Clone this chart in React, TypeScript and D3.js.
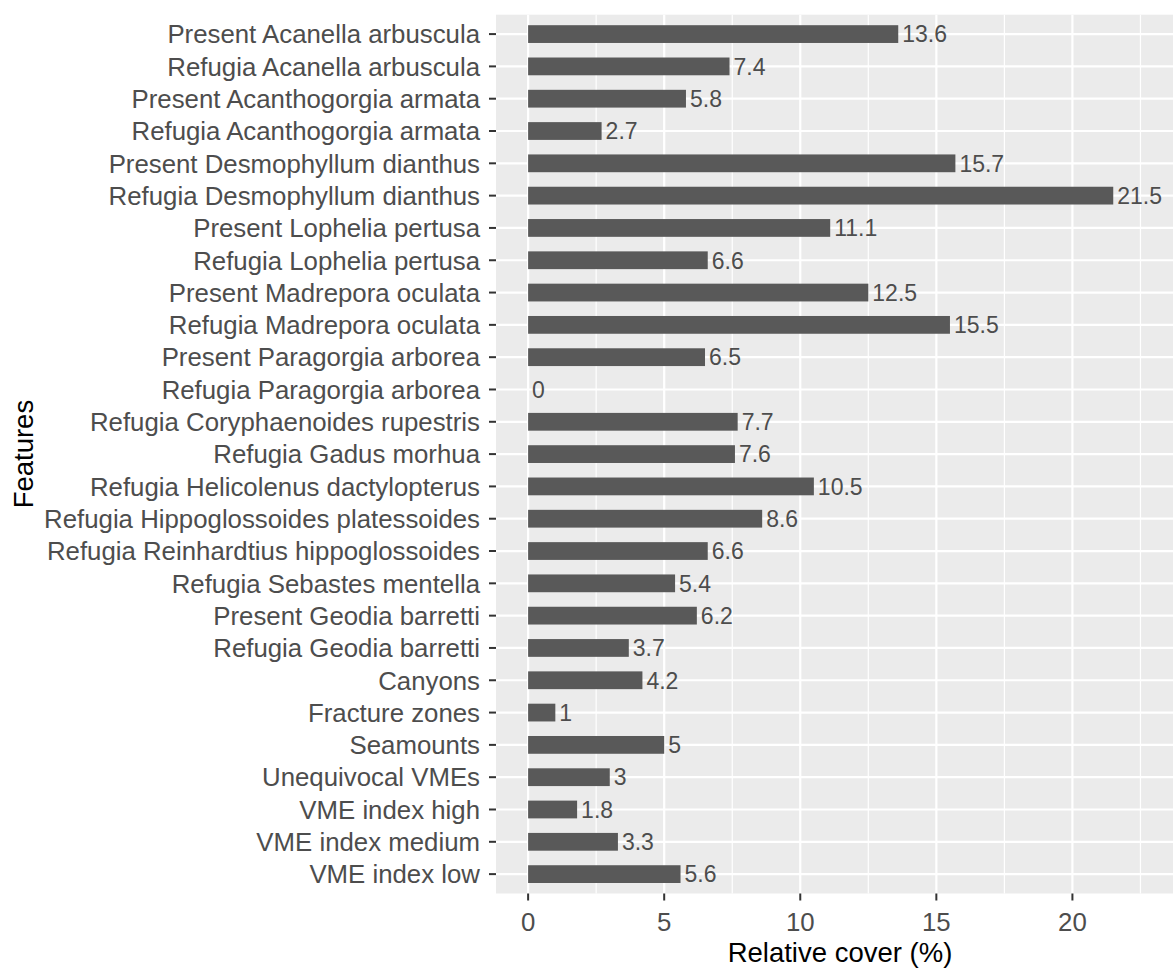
import * as d3 from "d3";

const features = [
  "Present Acanella arbuscula",
  "Refugia Acanella arbuscula",
  "Present Acanthogorgia armata",
  "Refugia Acanthogorgia armata",
  "Present Desmophyllum dianthus",
  "Refugia Desmophyllum dianthus",
  "Present Lophelia pertusa",
  "Refugia Lophelia pertusa",
  "Present Madrepora oculata",
  "Refugia Madrepora oculata",
  "Present Paragorgia arborea",
  "Refugia Paragorgia arborea",
  "Refugia Coryphaenoides rupestris",
  "Refugia Gadus morhua",
  "Refugia Helicolenus dactylopterus",
  "Refugia Hippoglossoides platessoides",
  "Refugia Reinhardtius hippoglossoides",
  "Refugia Sebastes mentella",
  "Present Geodia barretti",
  "Refugia Geodia barretti",
  "Canyons",
  "Fracture zones",
  "Seamounts",
  "Unequivocal VMEs",
  "VME index high",
  "VME index medium",
  "VME index low",
];

const cover = [
  13.6, 7.4, 5.8, 2.7, 15.7, 21.5, 11.1, 6.6, 12.5, 15.5, 6.5, 0, 7.7, 7.6,
  10.5, 8.6, 6.6, 5.4, 6.2, 3.7, 4.2, 1, 5, 3, 1.8, 3.3, 5.6,
];

const majorTicks = [0, 5, 10, 15, 20];
const minorTicks = [2.5, 7.5, 12.5, 17.5, 22.5];

const W = 1173;
const H = 969;
const FONT = "'Liberation Sans', Arial, sans-serif";

export default function App() {
  // panel runs past the right edge of the picture, as in the original export
  const panel = { left: 496, top: 14.7, right: 1184, bottom: 893.5 };

  const x = d3.scaleLinear().domain([-1.18, 24.1]).range([panel.left, panel.right]);
  const y = d3.scalePoint<string>().domain(features).range([panel.top, panel.bottom]).padding(0.6);
  const barH = y.step() * 0.55;

  return (
    <svg
      width={W}
      height={H}
      style={{ position: "absolute", left: 0, top: 0, background: "#fff" }}
      fontFamily={FONT}
    >
      <rect
        x={panel.left}
        y={panel.top}
        width={panel.right - panel.left}
        height={panel.bottom - panel.top}
        fill="#EBEBEB"
      />
      {minorTicks.map((t) => (
        <line key={"mi" + t} x1={x(t)} x2={x(t)} y1={panel.top} y2={panel.bottom} stroke="#fff" strokeWidth={1.2} />
      ))}
      {majorTicks.map((t) => (
        <line key={"ma" + t} x1={x(t)} x2={x(t)} y1={panel.top} y2={panel.bottom} stroke="#fff" strokeWidth={2.2} />
      ))}
      {features.map((f) => (
        <line key={"h" + f} x1={panel.left} x2={panel.right} y1={y(f)} y2={y(f)} stroke="#fff" strokeWidth={2.2} />
      ))}
      {features.map((f, i) => (
        <rect
          key={"b" + f}
          x={x(0)}
          y={(y(f) as number) - barH / 2}
          width={Math.max(0, x(cover[i]) - x(0))}
          height={barH}
          fill="#595959"
        />
      ))}
      {features.map((f, i) => (
        <text
          key={"v" + f}
          x={x(cover[i]) + 4}
          y={y(f)}
          dy="0.36em"
          fontSize={23}
          fill="#4D4D4D"
        >
          {cover[i]}
        </text>
      ))}
      {/* y axis */}
      {features.map((f) => (
        <g key={"yt" + f}>
          <line x1={panel.left - 7} x2={panel.left} y1={y(f)} y2={y(f)} stroke="#333" strokeWidth={2} />
          <text x={panel.left - 16} y={y(f)} dy="0.36em" textAnchor="end" fontSize={25.8} fill="#4D4D4D">
            {f}
          </text>
        </g>
      ))}
      {/* x axis */}
      {majorTicks.map((t) => (
        <g key={"xt" + t}>
          <line x1={x(t)} x2={x(t)} y1={panel.bottom} y2={panel.bottom + 7} stroke="#333" strokeWidth={2} />
          <text x={x(t)} y={panel.bottom + 37} textAnchor="middle" fontSize={25.8} fill="#4D4D4D">
            {t}
          </text>
        </g>
      ))}
      <text x={(panel.left + panel.right) / 2} y={962} textAnchor="middle" fontSize={27.5} fill="#000">
        Relative cover (%)
      </text>
      <text
        transform={`translate(33,${(panel.top + panel.bottom) / 2}) rotate(-90)`}
        textAnchor="middle"
        fontSize={27.5}
        fill="#000"
      >
        Features
      </text>
    </svg>
  );
}
